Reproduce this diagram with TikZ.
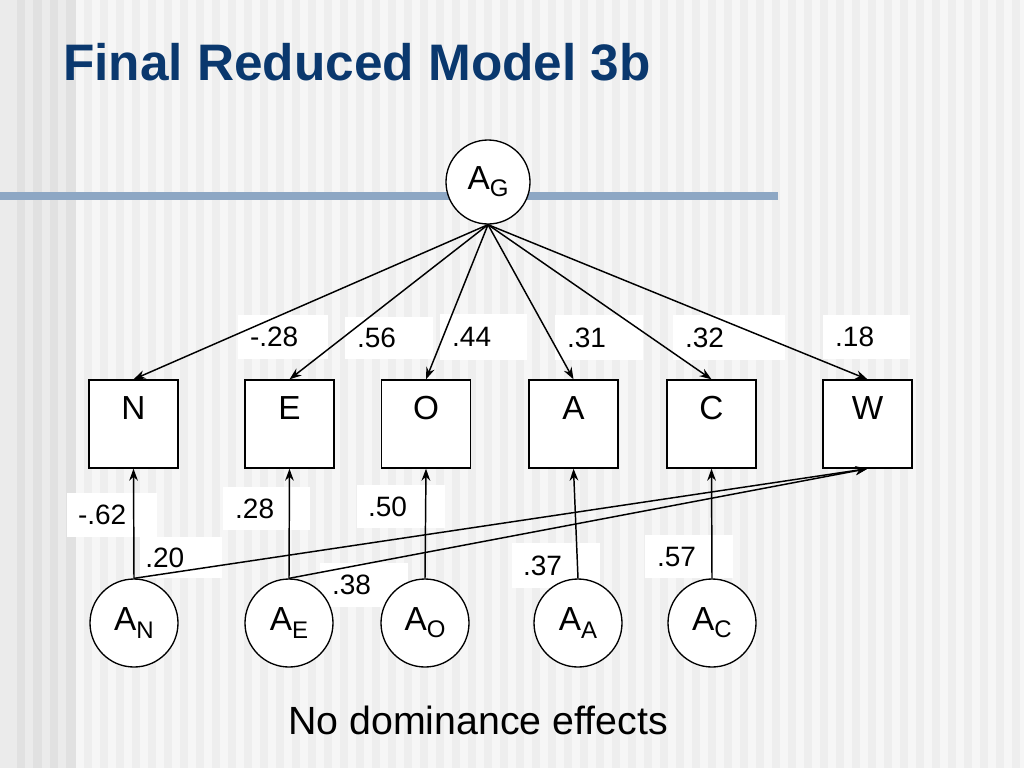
\documentclass[tikz,border=0pt]{standalone}
\usepackage{fontspec}
\setmainfont{Liberation Sans}
\usetikzlibrary{arrows.meta}
\definecolor{titleblue}{RGB}{10,56,110}
\definecolor{barblue}{RGB}{141,167,196}
\definecolor{bgbase}{RGB}{246,246,246}
\definecolor{bgstripe}{RGB}{238,238,238}
\definecolor{bgleft}{RGB}{235,235,235}
\definecolor{bgleftdark}{RGB}{225,225,225}
\newcommand{\subx}[1]{{\fontsize{18}{20}\selectfont\raisebox{-0.3em}{#1}}}
\begin{document}
\begin{tikzpicture}[x=0.75pt,y=-0.75pt,
  boxnode/.style={draw=black, line width=1pt, fill=white, minimum width=66.75pt, minimum height=66pt, inner sep=0pt},
  circnode/.style={draw=black, line width=1pt, fill=white, circle, minimum size=66pt, inner sep=0pt, font=\fontsize{25}{28}\selectfont},
  boxlab/.style={anchor=north, inner sep=0pt, yshift=-12.5pt, font=\fontsize{25}{28}\selectfont},
  lblbox/.style={fill=white, draw=none, inner sep=0pt},
  numtxt/.style={anchor=west, inner sep=0pt, font=\fontsize{21}{25}\selectfont},
  arr/.style={line width=1.1pt, -{Stealth[length=9pt,width=6.5pt]}}
]
\useasboundingbox (0,0) rectangle (1024,768);
% background
\fill[bgbase] (0,0) rectangle (1024,768);
\foreach \x in {84,100,...,1020} { \fill[bgstripe] (\x,0) rectangle ++(8,768); }
\fill[bgleft] (0,0) rectangle (76,768);
\foreach \a/\b in {17/25,33/42,50/58,66/76} { \fill[bgleftdark] (\a,0) rectangle (\b,768); }
\fill[barblue] (0,192) rectangle (778,200);
% title
\node[anchor=base west, inner sep=0pt, text=titleblue, font=\fontsize{38.5}{44}\selectfont\bfseries] (title) at (63,80) {Final Reduced Model 3b};
% label boxes (upper)
\node[lblbox, minimum width=67.5pt, minimum height=33pt, label={[numtxt, xshift=9pt]west:-.28}] (l1) at (283,336.5) {};
\node[lblbox, minimum width=66pt, minimum height=31pt, label={[numtxt, xshift=9pt]west:.56}] (l2) at (389,338) {};
\node[lblbox, minimum width=65pt, minimum height=35pt, label={[numtxt, xshift=9pt]west:.44}] (l3) at (483.5,337) {};
\node[lblbox, minimum width=66pt, minimum height=34pt, label={[numtxt, xshift=9pt]west:.31}] (l4) at (599,337.5) {};
\node[lblbox, minimum width=84pt, minimum height=34pt, label={[numtxt, xshift=9pt]west:.32}] (l5) at (729,337.5) {};
\node[lblbox, minimum width=65pt, minimum height=33pt, label={[numtxt, xshift=9pt]west:.18}] (l6) at (866.5,337) {};
% label boxes (lower)
\node[lblbox, minimum width=67.5pt, minimum height=33pt, label={[numtxt, xshift=8.25pt]west:-.62}] (m1) at (112,515) {};
\node[lblbox, minimum width=61.5pt, minimum height=31pt, label={[numtxt, xshift=4pt]west:.20}] (m2) at (181,557.5) {};
\node[lblbox, minimum width=65pt, minimum height=32pt, label={[numtxt, xshift=9pt]west:.28}] (m3) at (266.5,508.5) {};
\node[lblbox, minimum width=66pt, minimum height=32pt, label={[numtxt, xshift=8.25pt]west:.50}] (m4) at (401,506.5) {};
\node[lblbox, minimum width=66pt, minimum height=33pt, label={[numtxt, xshift=9pt]west:.38}] (m5) at (364,585) {};
\node[lblbox, minimum width=66pt, minimum height=34pt, label={[numtxt, xshift=8.25pt]west:.37}] (m6) at (556,565.5) {};
\node[lblbox, minimum width=66pt, minimum height=32pt, label={[numtxt, xshift=9pt]west:.57}] (m7) at (689,556.5) {};
% observed boxes
\node[boxnode, label={[boxlab]north:N}] (N) at (133.5,424) {};
\node[boxnode, label={[boxlab]north:E}] (E) at (289.5,424) {};
\node[boxnode, label={[boxlab]north:O}] (O) at (426,424) {};
\node[boxnode, label={[boxlab]north:A}] (A) at (573.5,424) {};
\node[boxnode, label={[boxlab]north:C}] (C) at (711.5,424) {};
\node[boxnode, label={[boxlab]north:W}] (W) at (867.5,424) {};
% latent circles
\node[circnode, minimum size=63pt] (AG) at (488,182) {A\subx{G}};
\node[circnode] (AN) at (134,623) {A\subx{N}};
\node[circnode] (AE) at (289,623) {A\subx{E}};
\node[circnode] (AO) at (425,623) {A\subx{O}};
\node[circnode] (AA) at (578,623) {A\subx{A}};
\node[circnode] (AC) at (712,623) {A\subx{C}};
% arrows from AG
\foreach \t in {N,E,O,A,C,W} { \draw[arr] (AG.south) -- (\t.north); }
% arrows from specific factors
\draw[arr] (AN.north) -- (N.south);
\draw[arr] (AE.north) -- (E.south);
\draw[arr] (AO.north) -- (O.south);
\draw[arr] (AA.north) -- (A.south);
\draw[arr] (AC.north) -- (C.south);
\draw[arr] (AN.north) -- (W.south);
\draw[arr] (AE.north) -- (W.south);
% caption
\node[anchor=base, inner sep=0pt, font=\fontsize{29.5}{34}\selectfont] (cap) at (478,734) {No dominance effects};
\end{tikzpicture}
\end{document}
